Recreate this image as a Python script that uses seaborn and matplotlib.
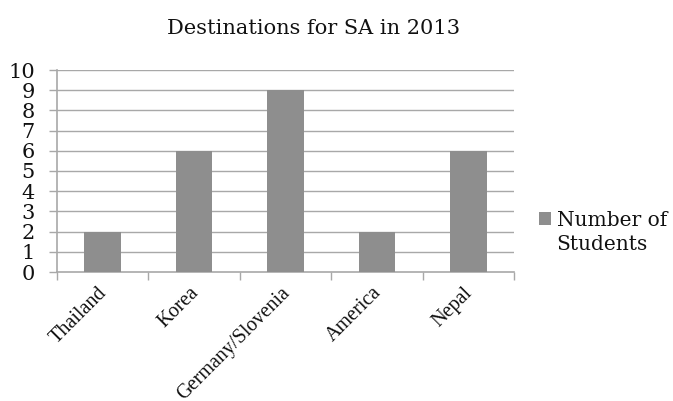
import matplotlib
matplotlib.use("Agg")
import matplotlib.pyplot as plt
import matplotlib.transforms as mtransforms
import seaborn as sns
import pandas as pd
import numpy as np
from matplotlib.ticker import FixedLocator
from matplotlib.patches import Patch

categories = ["Thailand", "Korea", "Germany/Slovenia", "America", "Nepal"]
students = [2, 6, 9, 2, 6]
yticks = list(range(0, 11))
series_name_lines = ["Number of", "Students"]
title = "Destinations for SA in 2013"

sns.set_theme(style="white")
plt.rcParams['font.family'] = ['DejaVu Serif']

df = pd.DataFrame({"Destination": categories, "Students": students})

fig = plt.figure(figsize=(6.73, 4.01), dpi=100)
ax = fig.add_axes([57/673, 129/401, (514-57)/673, (272-70)/401])

bar_color = "#8e8e8e"
grid_color = "#a8a8a8"
text_color = "#111111"

sns.barplot(data=df, x="Destination", y="Students", color=bar_color,
            width=0.4, ax=ax, saturation=1, zorder=3, linewidth=0, edgecolor='none')

ax.set_ylim(0, 10)
ax.set_xlim(-0.5, len(categories) - 0.5)
ax.set_yticks(yticks)
ax.set_yticklabels([str(t) for t in yticks], fontsize=15, family='DejaVu Serif')
for t in yticks[1:]:
    ax.axhline(t, color=grid_color, lw=1, zorder=1)

ax.set_xlabel("")
ax.set_ylabel("")

ax.xaxis.set_minor_locator(FixedLocator(np.arange(-0.5, len(categories), 1)))
ax.tick_params(axis='x', which='major', length=0, pad=6)
ax.tick_params(axis='x', which='minor', length=6, color=grid_color, width=1, direction='out', bottom=True)
ax.tick_params(axis='y', length=6, color=grid_color, width=1, direction='out', left=True, pad=10, labelcolor=text_color)

ax.set_xticks(range(len(categories)))
ax.set_xticklabels(categories, rotation=45, ha='right', va='top', rotation_mode='anchor',
                   fontsize=14.5, family='Liberation Serif', color=text_color)
shift = mtransforms.ScaledTranslation(-5/100, -3/100, fig.dpi_scale_trans)
for lab in ax.get_xticklabels():
    lab.set_transform(lab.get_transform() + shift)

for s in ["top", "right"]:
    ax.spines[s].set_visible(False)
for s in ["left", "bottom"]:
    ax.spines[s].set_color(grid_color)
    ax.spines[s].set_linewidth(1.2)

fig.text(314/673, 1 - 28/401, title, ha='center', va='center', fontsize=15,
         family='DejaVu Serif', color=text_color)

handle = Patch(facecolor=bar_color, edgecolor='none', label=series_name_lines[0])
leg = fig.legend(handles=[handle], loc='center left', bbox_to_anchor=(539/673, 1 - 220/401),
                 frameon=False, handlelength=0.62, handleheight=0.62,
                 handletextpad=0.25, borderaxespad=0, borderpad=0,
                 prop={'family': 'DejaVu Serif', 'size': 14.5})
for txt in leg.get_texts():
    txt.set_color(text_color)

fig.canvas.draw()
lt = leg.get_texts()[0]
bb = lt.get_window_extent(fig.canvas.get_renderer())
fig.text(bb.x0 / fig.bbox.width, (bb.y0 - 25) / fig.bbox.height, series_name_lines[1],
         ha='left', va='bottom', fontsize=14.5, family='DejaVu Serif', color=text_color)

fig.savefig("out.png", dpi=100, facecolor='white')
